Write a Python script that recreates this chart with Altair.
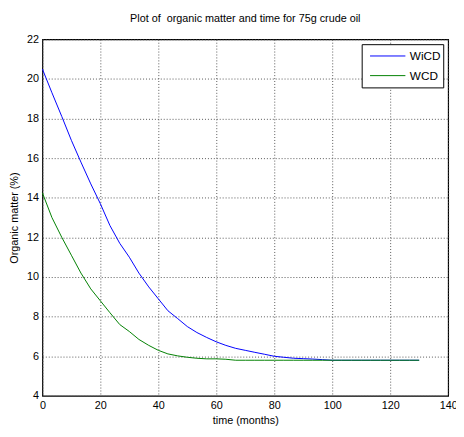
import altair as alt
import pandas as pd

months = [0, 3.3, 6.7, 10, 13.3, 16.7, 20, 23.3, 26.7, 30, 33.3, 36.7, 40, 43.3, 46.7,
          50, 53.3, 56.7, 60, 63.3, 66.7, 70, 73.3, 76.7, 80, 83.3, 86.7, 90, 93.3,
          96.7, 100, 103.3, 106.7, 110, 113.3, 116.7, 120, 123.3, 126.7, 130]
wicd = [20.5, 19.3, 18.1, 16.9, 15.8, 14.7, 13.7, 12.6, 11.7, 11.0, 10.2, 9.5, 8.9, 8.3, 7.9,
        7.5, 7.2, 6.95, 6.73, 6.55, 6.4, 6.3, 6.2, 6.1, 6.0, 5.95, 5.9, 5.88, 5.86,
        5.83, 5.8, 5.8, 5.8, 5.8, 5.8, 5.8, 5.8, 5.8, 5.8, 5.8]
wcd = [14.25, 13.0, 12.0, 11.1, 10.2, 9.4, 8.8, 8.2, 7.6, 7.25, 6.85, 6.55, 6.3, 6.12, 6.02,
       5.95, 5.9, 5.87, 5.87, 5.85, 5.8, 5.8, 5.8, 5.8, 5.8, 5.8, 5.8, 5.8, 5.8,
       5.8, 5.8, 5.8, 5.8, 5.8, 5.8, 5.8, 5.8, 5.8, 5.8, 5.8]
series = ["WiCD", "WCD"]
colors = ["#0000FF", "#008000"]
x_ticks = [0, 20, 40, 60, 80, 100, 120, 140]
y_ticks = [4, 6, 8, 10, 12, 14, 16, 18, 20, 22]

rows = []
for name, vals in zip(series, [wicd, wcd]):
    for m, v in zip(months, vals):
        rows.append({"time": m, "value": v, "series": name})
df = pd.DataFrame(rows)

FONT = "Liberation Sans"
GRID = dict(grid=True, gridColor="#444", gridDash=[1, 2], gridWidth=1, gridOpacity=0.9)

chart = alt.Chart(df).mark_line(strokeWidth=1).encode(
    x=alt.X("time:Q", title="time (months)",
            scale=alt.Scale(domain=[0, 140], nice=False),
            axis=alt.Axis(values=x_ticks, tickSize=0, labelPadding=4,
                          domain=False, titlePadding=4, labelFlush=False, **GRID)),
    y=alt.Y("value:Q", title="Organic matter (%)",
            scale=alt.Scale(domain=[4, 22], nice=False, zero=False),
            axis=alt.Axis(values=y_ticks, tickSize=0, labelPadding=4,
                          domain=False, titlePadding=7, labelFlush=False, **GRID)),
    color=alt.Color("series:N", sort=series,
                    scale=alt.Scale(domain=series, range=colors),
                    legend=alt.Legend(title=None, orient="none", legendX=325, legendY=5,
                                      symbolType="stroke", symbolSize=1296,
                                      symbolStrokeWidth=1, labelFontSize=12,
                                      strokeColor="black", fillColor="white",
                                      padding=2, rowPadding=0, clipHeight=20,
                                      labelFont=FONT, labelColor="black", labelOffset=4,
                                      labelExpr="datum.label + '\u00a0\u00a0\u00a0'",
                                      labelLimit=200, symbolOffset=6)),
    detail="series:N",
).properties(
    width=413, height=363,
    title=alt.TitleParams("Plot of\u00a0\u00a0organic matter and time for 75g crude oil",
                          fontSize=11, fontWeight="normal", font=FONT, offset=10,
                          color="black"),
    autosize=alt.AutoSizeParams(type="none"),
    padding={"left": 35, "top": 28, "right": 8, "bottom": 38},
    background="white",
).configure_axis(
    labelFont=FONT, titleFont=FONT, labelFontSize=11, titleFontSize=11,
    titleFontWeight="normal", labelColor="black", titleColor="black",
).configure_view(
    stroke="black", strokeWidth=1.2
)

chart.save("out.html", embed_options={"renderer": "svg", "actions": False})
